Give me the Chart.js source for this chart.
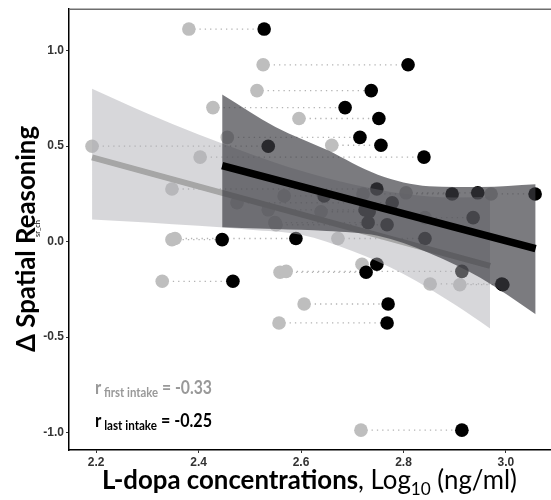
<!DOCTYPE html>
<html>
<head>
<meta charset="utf-8">
<script src="https://cdn.jsdelivr.net/npm/chart.js@4.4.0/dist/chart.umd.min.js"></script>
<style>
  html, body { margin: 0; padding: 0; background: #fff; }
  #wrap { position: relative; width: 551px; height: 500px; }
</style>
</head>
<body>
<div id="wrap"><canvas id="ldopaChart"></canvas></div>
<script>
// Log10 L-dopa at first and last intake, and change in spatial reasoning (one entry per participant)
const firstIntake = [2.381, 2.526, 2.514, 2.428, 2.596, 2.456, 2.660, 2.192, 2.403, 2.348, 2.567, 2.721, 2.805, 2.971, 2.475, 2.536,
                     2.639, 2.551, 2.549, 2.842, 2.348, 2.354, 2.672, 2.559, 2.571, 2.719, 2.329, 2.852, 2.910, 2.606, 2.557, 2.717];
const lastIntake  = [2.528, 2.809, 2.737, 2.686, 2.752, 2.715, 2.756, 2.536, 2.840, 2.748, 2.645, 2.895, 2.945, 3.057, 2.778, 2.725,
                     2.733, 2.768, 2.731, 2.936, 2.446, 2.590, 2.842, 2.727, 2.914, 2.748, 2.467, 2.992, 2.994, 2.770, 2.768, 2.914];
const deltaSR     = [1.112, 0.925, 0.790, 0.701, 0.644, 0.545, 0.504, 0.499, 0.442, 0.275, 0.239, 0.249, 0.255, 0.249, 0.203, 0.166,
                     0.156, 0.088, 0.099, 0.125, 0.010, 0.016, 0.016, -0.161, -0.156, -0.119, -0.208, -0.222, -0.226, -0.327, -0.426, -0.987];

// regression fits and 95% bands
const fitFirstX = [2.192, 2.969];
const fitFirstY = [0.440, -0.127];
const bandFirstX  = [2.192, 2.30, 2.40, 2.50, 2.60, 2.70, 2.80, 2.90, 2.969];
const bandFirstHi = [0.80, 0.67, 0.56, 0.46, 0.37, 0.30, 0.25, 0.23, 0.234];
const bandFirstLo = [0.115, 0.100, 0.082, 0.062, 0.035, -0.05, -0.17, -0.33, -0.455];

const fitLastX = [2.446, 3.058];
const fitLastY = [0.397, -0.037];
const bandLastX  = [2.446, 2.55, 2.65, 2.75, 2.85, 2.95, 3.058];
const bandLastHi = [0.77, 0.60, 0.48, 0.35, 0.29, 0.285, 0.30];
const bandLastLo = [0.075, 0.065, 0.055, 0.03, -0.06, -0.19, -0.38];

const xTicks = [2.2, 2.4, 2.6, 2.8, 3.0];
const yTicks = [-1.0, -0.5, 0.0, 0.5, 1.0];

const rFirst = '-0.33';
const rLast = '-0.25';

const toPts = (xs, ys) => xs.map((x, i) => ({ x: x, y: ys[i] }));

// dotted connectors, broken with null points
const connectors = [];
deltaSR.forEach((y, i) => {
    connectors.push({ x: firstIntake[i], y: y }, { x: lastIntake[i], y: y }, { x: null, y: null });
});

// draws text runs (mixed fonts / subscripts) squeezed to a given width
function drawRuns(ctx, runs, x, y, width, angle) {
    ctx.save();
    ctx.translate(x, y);
    if (angle) ctx.rotate(angle);
    let total = 0;
    runs.forEach(r => { ctx.font = r.font; total += ctx.measureText(r.text).width; });
    ctx.scale(width / total, 1);
    ctx.textBaseline = 'alphabetic';
    ctx.textAlign = 'left';
    let cx = 0;
    runs.forEach(r => {
        ctx.font = r.font;
        ctx.fillStyle = r.color || '#000';
        ctx.fillText(r.text, cx, r.dy || 0);
        cx += ctx.measureText(r.text).width;
    });
    ctx.restore();
}

const FONT = 'Lato, "Open Sans", sans-serif';

const textPlugin = {
    id: 'textPlugin',
    afterDraw(chart) {
        const ctx = chart.ctx;
        const area = chart.chartArea;

        // top panel border
        ctx.save();
        ctx.strokeStyle = '#6e6e6e';
        ctx.lineWidth = 1.5;
        ctx.beginPath();
        ctx.moveTo(area.left, area.top);
        ctx.lineTo(area.right, area.top);
        ctx.stroke();
        ctx.restore();

        // x axis title
        drawRuns(ctx, [
            { text: 'L-dopa concentrations', font: 'bold 27px ' + FONT },
            { text: ', Log', font: '27px ' + FONT },
            { text: '10', font: '18px ' + FONT, dy: 6 },
            { text: ' (ng/ml)', font: '27px ' + FONT }
        ], 102, 489, 415);

        // y axis title
        drawRuns(ctx, [
            { text: 'Δ Spatial Reasoning', font: 'bold 27px ' + FONT }
        ], 35, 352, 226, -Math.PI / 2);
        drawRuns(ctx, [
            { text: 'sr_ch', font: '7px ' + FONT }
        ], 40, 237, 17, -Math.PI / 2);

        // correlation labels
        drawRuns(ctx, [
            { text: 'r', font: 'bold 19px ' + FONT, color: '#999999' },
            { text: ' first intake', font: 'bold 13px ' + FONT, color: '#999999', dy: 3 },
            { text: ' = ' + rFirst, font: 'bold 18px ' + FONT, color: '#999999' }
        ], 95, 394, 117);
        drawRuns(ctx, [
            { text: 'r', font: 'bold 19px ' + FONT, color: '#000' },
            { text: ' last intake', font: 'bold 13px ' + FONT, color: '#000', dy: 3 },
            { text: ' = ' + rLast, font: 'bold 18px ' + FONT, color: '#000' }
        ], 95, 427, 117);
    }
};

const tickFont = { family: '"Liberation Sans", Arial, sans-serif', size: 12, weight: 'bold' };

new Chart(document.getElementById('ldopaChart'), {
    type: 'scatter',
    data: {
        datasets: [
            {
                type: 'line',
                data: connectors,
                borderColor: '#b3b3b3',
                borderWidth: 1.3,
                borderDash: [1.3, 4],
                pointRadius: 0,
                spanGaps: false,
                fill: false,
                order: 9
            },
            {
                label: 'first intake',
                data: toPts(firstIntake, deltaSR),
                backgroundColor: '#bebebe',
                borderWidth: 0,
                pointRadius: 6.8,
                order: 8
            },
            {
                label: 'last intake',
                data: toPts(lastIntake, deltaSR),
                backgroundColor: '#000000',
                borderWidth: 0,
                pointRadius: 6.8,
                order: 7
            },
            {
                type: 'line',
                data: toPts(bandFirstX, bandFirstHi),
                borderWidth: 0,
                pointRadius: 0,
                cubicInterpolationMode: 'monotone',
                backgroundColor: 'rgba(175,175,182,0.5)',
                fill: '+1',
                order: 6
            },
            {
                type: 'line',
                data: toPts(bandFirstX, bandFirstLo),
                borderWidth: 0,
                pointRadius: 0,
                cubicInterpolationMode: 'monotone',
                fill: false,
                order: 6
            },
            {
                type: 'line',
                data: toPts(fitFirstX, fitFirstY),
                borderColor: '#a6a6a6',
                borderWidth: 6,
                pointRadius: 0,
                fill: false,
                order: 5
            },
            {
                type: 'line',
                data: toPts(bandLastX, bandLastHi),
                borderWidth: 0,
                pointRadius: 0,
                cubicInterpolationMode: 'monotone',
                backgroundColor: 'rgba(60,60,66,0.68)',
                fill: '+1',
                order: 4
            },
            {
                type: 'line',
                data: toPts(bandLastX, bandLastLo),
                borderWidth: 0,
                pointRadius: 0,
                cubicInterpolationMode: 'monotone',
                fill: false,
                order: 4
            },
            {
                type: 'line',
                data: toPts(fitLastX, fitLastY),
                borderColor: '#000000',
                borderWidth: 7.5,
                pointRadius: 0,
                fill: false,
                order: 3
            }
        ]
    },
    options: {
        responsive: true,
        maintainAspectRatio: false,
        animation: false,
        events: [],
        layout: { autoPadding: false, padding: { top: 6, right: 0, left: 0, bottom: 0 } },
        plugins: {
            legend: { display: false },
            tooltip: { enabled: false }
        },
        scales: {
            x: {
                type: 'linear',
                min: 2.147,
                max: 3.088,
                afterBuildTicks: s => { s.ticks = xTicks.map(v => ({ value: v })); },
                afterFit: s => { s.height = 50; },
                ticks: {
                    font: tickFont,
                    color: '#333333',
                    padding: 2,
                    maxRotation: 0,
                    autoSkip: false,
                    callback: v => v.toFixed(1)
                },
                grid: { drawOnChartArea: false, drawTicks: true, tickLength: 3, color: '#333333' },
                border: { display: true, color: '#000000', width: 1.5 }
            },
            y: {
                type: 'linear',
                min: -1.091,
                max: 1.216,
                afterBuildTicks: s => { s.ticks = yTicks.map(v => ({ value: v })); },
                afterFit: s => { s.width = 69; },
                ticks: {
                    font: tickFont,
                    color: '#333333',
                    padding: 2,
                    autoSkip: false,
                    callback: v => v.toFixed(1)
                },
                grid: { drawOnChartArea: false, drawTicks: true, tickLength: 3, color: '#333333' },
                border: { display: true, color: '#000000', width: 1.5 }
            }
        }
    },
    plugins: [textPlugin]
});
</script>
</body>
</html>
